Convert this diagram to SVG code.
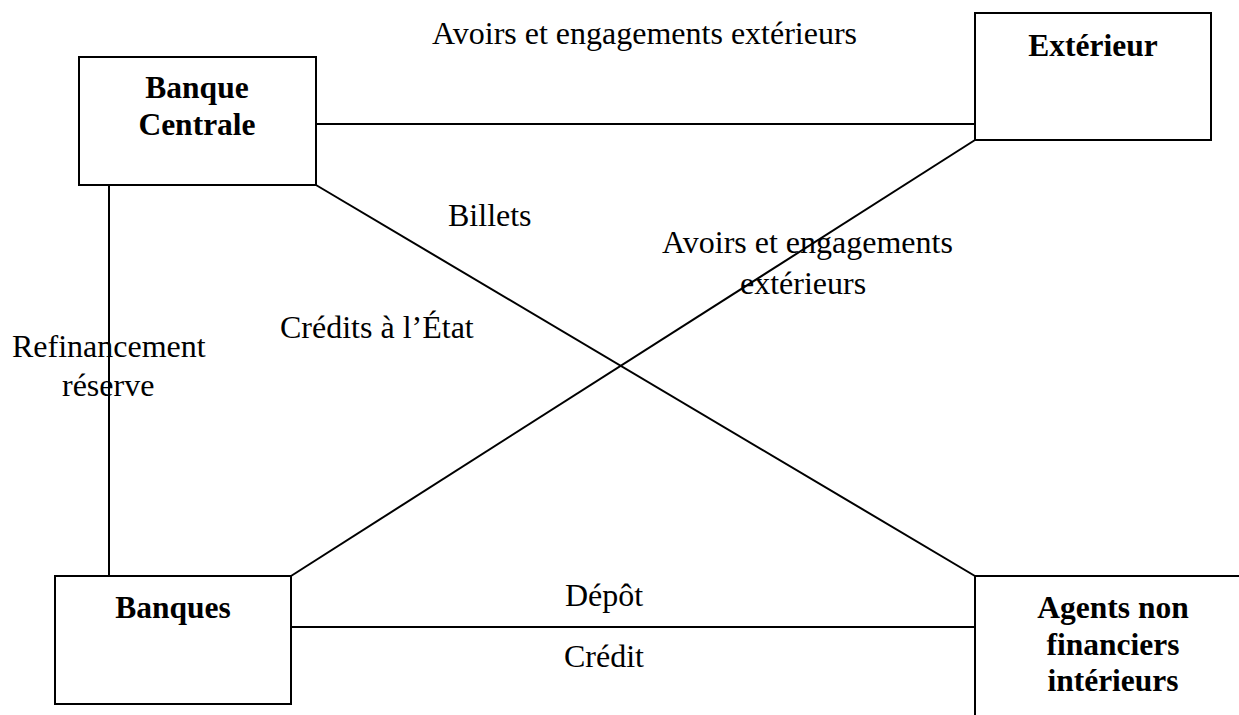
<svg xmlns="http://www.w3.org/2000/svg" width="1239" height="715" viewBox="0 0 1239 715">
<style>
.box{fill:#fff;stroke:#000;stroke-width:2}
.ln{stroke:#000;stroke-width:2;fill:none}
.t{font-family:"Liberation Serif","Times New Roman",serif;font-size:32px;fill:#000}
.b{font-weight:bold;text-anchor:middle;font-size:31.5px}
</style>
<rect width="1239" height="715" fill="#fff"/>
<g id="connectors">
<line class="ln" x1="316" y1="124" x2="975" y2="124"/>
<line class="ln" x1="109" y1="185" x2="109" y2="576"/>
<line class="ln" x1="316" y1="185" x2="975" y2="576"/>
<line class="ln" x1="291" y1="576" x2="975" y2="140"/>
<line class="ln" x1="291" y1="627" x2="975" y2="627"/>
</g>
<g id="banque-centrale">
<rect class="box" x="79" y="57" width="237" height="128"/>
<text class="t b" x="197" y="98">Banque</text>
<text class="t b" x="197" y="135">Centrale</text>
</g>
<g id="exterieur">
<rect class="box" x="975" y="13" width="236" height="127"/>
<text class="t b" x="1093" y="56">Extérieur</text>
</g>
<g id="banques">
<rect class="box" x="55" y="576" width="236" height="128"/>
<text class="t b" x="173" y="618">Banques</text>
</g>
<g id="agents">
<rect class="box" x="975" y="576" width="300" height="160"/>
<text class="t b" x="1113" y="618">Agents non</text>
<text class="t b" x="1113" y="655">financiers</text>
<text class="t b" x="1113" y="691">intérieurs</text>
</g>
<g id="labels">
<text class="t" x="432" y="44">Avoirs et engagements extérieurs</text>
<text class="t" x="448" y="226">Billets</text>
<text class="t" x="662" y="253">Avoirs et engagements</text>
<text class="t" x="740" y="294">extérieurs</text>
<text class="t" x="280" y="338">Crédits à l’État</text>
<text class="t" x="12" y="357">Refinancement</text>
<text class="t" x="62" y="396">réserve</text>
<text class="t" x="565" y="606">Dépôt</text>
<text class="t" x="564" y="667">Crédit</text>
</g>
</svg>
